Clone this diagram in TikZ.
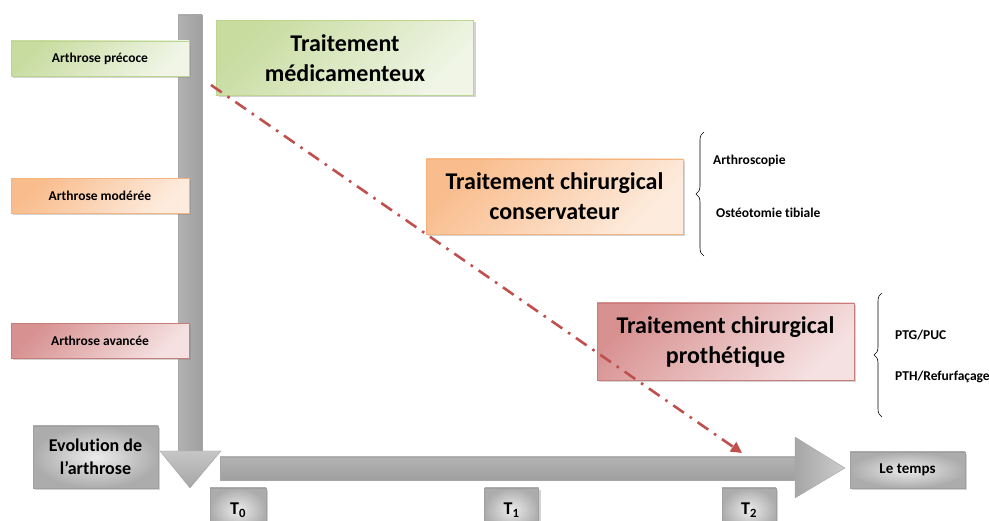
\documentclass[tikz,border=0pt]{standalone}
\usepackage{fontspec}
\setmainfont{Carlito}[Ligatures=NoCommon]
\usepackage{tikz}
\usetikzlibrary{positioning}
\usetikzlibrary{shadows}
\usetikzlibrary{arrows.meta}
\usetikzlibrary{decorations.pathreplacing}
\definecolor{greenA}{RGB}{200,220,160}
\definecolor{greenB}{RGB}{240,245,230}
\definecolor{greenL}{RGB}{190,212,145}
\definecolor{orangeA}{RGB}{249,188,140}
\definecolor{orangeB}{RGB}{253,236,222}
\definecolor{orangeL}{RGB}{245,180,125}
\definecolor{redA}{RGB}{216,145,145}
\definecolor{redB}{RGB}{245,225,225}
\definecolor{redL}{RGB}{200,125,125}
\definecolor{arrowred}{RGB}{192,80,77}
\tikzset{
    box/.style = {rectangle,inner sep=0pt,align=center,
        drop shadow={shadow xshift=2pt,shadow yshift=-2pt,opacity=.35}},
    level/.style = {box,minimum width=178pt,minimum height=35pt,
        font=\bfseries\fontsize{13.5}{15}\selectfont},
    treat/.style = {box,minimum width=257pt,minimum height=75pt,
        font=\bfseries\fontsize{24}{30}\selectfont},
    greenfill/.style = {draw=greenL,top color=greenA,bottom color=greenB,shading angle=45},
    orangefill/.style = {draw=orangeL,top color=orangeA,bottom color=orangeB,shading angle=45},
    redfill/.style = {draw=redL,top color=redA,bottom color=redB,shading angle=45},
    graybox/.style = {box,draw=gray!75,inner color=gray!15,outer color=gray!65},
    tbox/.style = {graybox,minimum width=54pt,minimum height=44pt,
        font=\bfseries\fontsize{18}{20}\selectfont},
    item/.style = {anchor=west,inner sep=0pt,font=\bfseries\fontsize{13.5}{15}\selectfont},
    curly/.style = {decorate,decoration={brace,amplitude=8pt},line width=.6pt},
    dashdot/.style = {arrowred,line width=2.6pt,
        dash pattern=on 13pt off 7pt on 2.6pt off 7pt,
        -{Triangle[length=11pt,width=11pt]}}}

\begin{document}
\begin{tikzpicture}[x=1pt,y=-1pt]
    \useasboundingbox (0,0) rectangle (989,521);
    \shade[draw=gray!70,left color=gray!60,middle color=gray!25,right color=gray!75]
        (178,15) rectangle (202,451);
    \shade[draw=gray!70,top color=gray!45,bottom color=gray!70]
        (160,451) -- (221,451) -- (190,488) -- cycle;
    \shade[draw=gray!70,top color=gray!60,middle color=gray!22,bottom color=gray!75]
        (220,457) rectangle (795,480);
    \shade[draw=gray!70,left color=gray!70,right color=gray!40]
        (795,437) -- (845,468) -- (795,498) -- cycle;
    \path (100,58.5) node[level,greenfill] (precoce) {Arthrose précoce}
        + (0,137.5) node[level,orangefill] (moderee) {Arthrose modérée}
        + (0,282.5) node[level,redfill] (avancee) {Arthrose avancée}
        (345,58) node[treat,greenfill] (medic) {Traitement\\médicamenteux}
        (554.5,196.5) node[treat,orangefill] (conserv) {Traitement chirurgical\\conservateur}
        (725.5,341.5) node[treat,redfill,minimum height=77pt] (prothese) {Traitement chirurgical\\prothétique}
        (95.5,457) node[graybox,minimum width=125pt,minimum height=62pt,
            font=\bfseries\fontsize{18}{23}\selectfont] (evol) {Evolution de\\l’arthrose}
        (907.5,470) node[graybox,minimum width=115pt,minimum height=36pt,
            font=\bfseries\fontsize{15}{17}\selectfont] (temps) {Le temps}
        (238,510) node[tbox,minimum width=56pt] (tzero) {T\textsubscript{0}}
        (511.5,510) node[tbox] (tone) {T\textsubscript{1}}
        (749,510) node[tbox] (ttwo) {T\textsubscript{2}}
        (713,161) node[item] (arthroscopie) {Arthroscopie}
        (716,213) node[item] (osteotomie) {Ostéotomie tibiale}
        (895,335) node[item] (ptg) {PTG/PUC}
        (895,377) node[item] (pth) {PTH/Refurfaçage};
    \coordinate (dstart) at (211,85);
    \coordinate (dend) at (742,453);
    \coordinate (braceAlow) at (704,256);
    \coordinate (braceAtop) at (704,132);
    \coordinate (braceBlow) at (882,417);
    \coordinate (braceBtop) at (882,293);
    \draw[dashdot] (dstart) -- (dend);
    \draw[curly] (braceAlow) -- (braceAtop);
    \draw[curly] (braceBlow) -- (braceBtop);
\end{tikzpicture}
\end{document}
